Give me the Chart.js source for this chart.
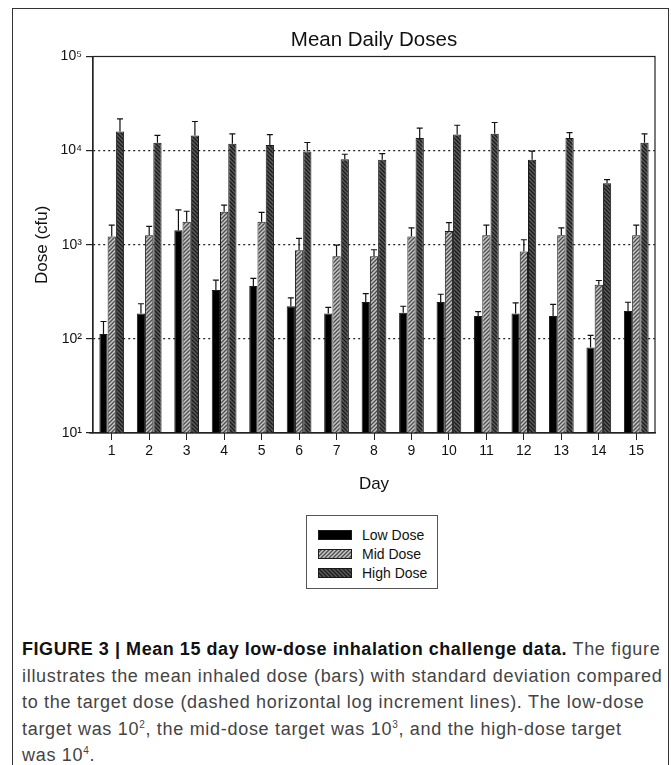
<!DOCTYPE html>
<html>
<head>
<meta charset="utf-8">
<script src="https://cdn.jsdelivr.net/npm/chart.js@4"></script>
<style>
    body { margin: 0; background: #fff; width: 671px; height: 765px; overflow: hidden; position: relative; font-family: "Liberation Sans", Arial, sans-serif; }
    #frame { position: absolute; left: 12px; top: 8px; width: 655px; height: 800px; border: 1px solid #333; }
    #chartCanvas { position: absolute; left: 0; top: 0; }
    #legend { position: absolute; left: 306px; top: 515px; width: 130px; height: 72px; border: 1px solid #555; background: #fff; }
    .legendRow { position: absolute; left: 11px; height: 16px; font-size: 14px; color: #111; line-height: 16px; white-space: nowrap; }
    .legendRow canvas { position: absolute; left: 0; top: 3px; }
    .legendRow span { position: absolute; left: 44px; top: 0; }
    #caption { position: absolute; left: 22px; top: 636px; font-size: 18px; letter-spacing: 0.7px; line-height: 26.5px; color: #444; white-space: nowrap; }
    #caption b { color: #111; letter-spacing: 0.55px; }
    #caption sup { font-size: 10px; line-height: 0; }
</style>
</head>
<body>
<div id="frame"></div>
<canvas id="chartCanvas" width="671" height="503"></canvas>
<div id="legend"></div>
<div id="caption">
<b>FIGURE 3 | Mean 15 day low-dose inhalation challenge data.</b> The figure<br>
illustrates the mean inhaled dose (bars) with standard deviation compared<br>
to the target dose (dashed horizontal log increment lines). The low-dose<br>
target was 10<sup>2</sup>, the mid-dose target was 10<sup>3</sup>, and the high-dose target<br>
was 10<sup>4</sup>.
</div>
<script>
const days = ["1", "2", "3", "4", "5", "6", "7", "8", "9", "10", "11", "12", "13", "14", "15"];

const lowDose = [113, 186, 1430, 330, 365, 222, 186, 247, 190, 247, 175, 186, 175, 81, 198];
const lowSD = [40, 50, 920, 90, 75, 50, 30, 56, 32, 51, 20, 55, 58, 28, 47];

const midDose = [1220, 1260, 1760, 2240, 1760, 875, 755, 755, 1220, 1400, 1260, 850, 1260, 375, 1260];
const midSD = [400, 310, 510, 400, 450, 295, 235, 130, 290, 320, 360, 280, 250, 42, 360];

const highDose = [16000, 12100, 14500, 11800, 11500, 9800, 8100, 8000, 13650, 14800, 15100, 8000, 13650, 4500, 12100];
const highSD = [5700, 2400, 5900, 3300, 3300, 2400, 1050, 1300, 3650, 3800, 4800, 1900, 1850, 420, 3000];

const yTickValues = [10, 100, 1000, 10000, 100000];
const yTickLabels = ["10¹", "10²", "10³", "10⁴", "10⁵"];
const targetLines = [100, 1000, 10000];

function hatch(ctx, bg, fg, dir) {
    const c = document.createElement("canvas");
    c.width = 4;
    c.height = 4;
    const g = c.getContext("2d");
    g.fillStyle = bg;
    g.fillRect(0, 0, 4, 4);
    g.strokeStyle = fg;
    g.lineWidth = 1.3;
    g.beginPath();
    if (dir > 0) {
        g.moveTo(-1, 5); g.lineTo(5, -1);
        g.moveTo(-1, 1); g.lineTo(1, -1);
        g.moveTo(3, 5); g.lineTo(5, 3);
    } else {
        g.moveTo(-1, -1); g.lineTo(5, 5);
        g.moveTo(3, -1); g.lineTo(5, 1);
        g.moveTo(-1, 3); g.lineTo(1, 5);
    }
    g.stroke();
    return ctx.createPattern(c, "repeat");
}

const fills = [
    ctx => "#000000",
    ctx => hatch(ctx, "#c6c6c6", "#4d4d4d", 1),
    ctx => hatch(ctx, "#5a5a5a", "#1c1c1c", -1)
];

const canvas = document.getElementById("chartCanvas");
const mainCtx = canvas.getContext("2d");

const errorBars = {
    id: "errorBars",
    afterDatasetsDraw(chart) {
        const { ctx, scales: { y } } = chart;
        ctx.save();
        ctx.strokeStyle = "#111";
        ctx.lineWidth = 1.2;
        chart.data.datasets.forEach((ds, i) => {
            const meta = chart.getDatasetMeta(i);
            meta.data.forEach((bar, j) => {
                const top = y.getPixelForValue(ds.data[j] + ds.sd[j]);
                ctx.beginPath();
                ctx.moveTo(bar.x, bar.y);
                ctx.lineTo(bar.x, top);
                ctx.moveTo(bar.x - 3, top);
                ctx.lineTo(bar.x + 3, top);
                ctx.stroke();
            });
        });
        ctx.restore();
    }
};

const plotBox = {
    id: "plotBox",
    afterDraw(chart) {
        const { ctx, chartArea: a } = chart;
        ctx.save();
        ctx.strokeStyle = "#222";
        ctx.lineWidth = 1.2;
        ctx.strokeRect(a.left, a.top, a.right - a.left, a.bottom - a.top);
        ctx.beginPath();
        ctx.moveTo(a.left - 4, a.bottom);
        ctx.lineTo(a.left, a.bottom);
        ctx.stroke();
        ctx.restore();
    }
};

const doseChart = new Chart(canvas, {
    type: "bar",
    data: {
        labels: days,
        datasets: [
            { label: "Low Dose", data: lowDose, sd: lowSD, backgroundColor: fills[0](mainCtx) },
            { label: "Mid Dose", data: midDose, sd: midSD, backgroundColor: fills[1](mainCtx) },
            { label: "High Dose", data: highDose, sd: highSD, backgroundColor: fills[2](mainCtx) }
        ].map(ds => Object.assign(ds, {
            borderColor: "#1a1a1a",
            borderWidth: 1,
            barPercentage: 1,
            categoryPercentage: 0.66
        }))
    },
    options: {
        responsive: false,
        animation: false,
        layout: { padding: { left: 30, right: 16, top: 0, bottom: 0 } },
        plugins: {
            legend: { display: false },
            tooltip: { enabled: false },
            title: {
                display: true,
                text: "Mean Daily Doses",
                fullSize: false,
                color: "#111",
                font: { family: "Liberation Sans", size: 20.5, weight: "normal" },
                padding: { top: 27.7, bottom: 4.2 }
            }
        },
        scales: {
            x: {
                offset: true,
                afterFit: s => { s.height = 70; },
                grid: { offset: false, drawOnChartArea: false, color: "#222", tickLength: 7, tickColor: "#222" },
                border: { color: "#222", width: 1.2 },
                ticks: { color: "#111", padding: 3, font: { family: "Liberation Sans", size: 14 } },
                title: {
                    display: true,
                    text: "Day",
                    color: "#111",
                    font: { family: "Liberation Sans", size: 17 },
                    padding: { top: 0, bottom: 8.8 }
                }
            },
            y: {
                type: "logarithmic",
                min: 10,
                max: 100000,
                afterFit: s => { s.width = 63; },
                afterBuildTicks: s => { s.ticks = yTickValues.map(v => ({ value: v, major: true })); },
                grid: {
                    color: c => targetLines.includes(c.tick && c.tick.value) ? "#222" : "rgba(0,0,0,0)",
                    lineWidth: 1.2,
                    tickLength: 7,
                    tickColor: "#222",
                    tickBorderDash: []
                },
                border: { color: "#222", width: 1.2, dash: [2, 3] },
                ticks: {
                    color: "#111",
                    padding: 4,
                    font: { family: "Liberation Sans", size: 14 },
                    callback: v => yTickLabels[yTickValues.indexOf(v)] || ""
                },
                title: {
                    display: true,
                    text: "Dose (cfu)",
                    color: "#111",
                    font: { family: "Liberation Sans", size: 17 },
                    padding: { top: 1.8, bottom: 0 }
                }
            }
        }
    },
    plugins: [errorBars, plotBox]
});

// legend built from the chart's own datasets
const legend = document.getElementById("legend");
doseChart.data.datasets.forEach((ds, i) => {
    const row = document.createElement("div");
    row.className = "legendRow";
    row.style.top = (11 + i * 19) + "px";
    const sw = document.createElement("canvas");
    sw.width = 34;
    sw.height = 10;
    const sctx = sw.getContext("2d");
    sctx.fillStyle = fills[i](sctx);
    sctx.fillRect(0, 0, 34, 10);
    sctx.strokeStyle = "#1a1a1a";
    sctx.strokeRect(0.5, 0.5, 33, 9);
    const label = document.createElement("span");
    label.textContent = ds.label;
    row.appendChild(sw);
    row.appendChild(label);
    legend.appendChild(row);
});
</script>
</body>
</html>
